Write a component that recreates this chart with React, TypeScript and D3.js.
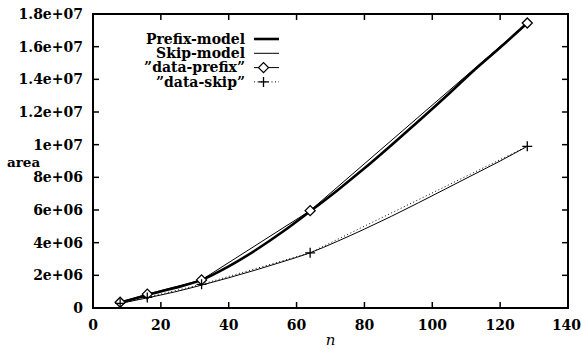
import React from "react";
import * as d3 from "d3";

const dataN = [8, 16, 32, 64, 128];
const dataPrefix = [0.35e6, 0.85e6, 1.72e6, 5.96e6, 17.45e6];
const dataSkip = [0.28e6, 0.65e6, 1.45e6, 3.38e6, 9.9e6];

const modelN = [8, 16, 24, 32, 40, 48, 56, 64, 72, 80, 88, 96, 104, 112, 120, 128];
const prefixModel = [0.33e6, 0.8e6, 1.22e6, 1.72e6, 2.55e6, 3.55e6, 4.68e6, 5.92e6, 7.2e6, 8.55e6, 9.98e6, 11.45e6, 12.95e6, 14.5e6, 15.95e6, 17.45e6];
const skipModel = [0.28e6, 0.62e6, 0.98e6, 1.4e6, 1.85e6, 2.33e6, 2.84e6, 3.38e6, 4.08e6, 4.83e6, 5.62e6, 6.45e6, 7.3e6, 8.15e6, 9.0e6, 9.9e6];

const xTicks = [0, 20, 40, 60, 80, 100, 120, 140];
const yTicks = [0, 2e6, 4e6, 6e6, 8e6, 1e7, 1.2e7, 1.4e7, 1.6e7, 1.8e7];
const yTickLabels = ["0", "2e+06", "4e+06", "6e+06", "8e+06", "1e+07", "1.2e+07", "1.4e+07", "1.6e+07", "1.8e+07"];
const legendLabels = ["Prefix-model", "Skip-model", "\u201ddata-prefix\u201d", "\u201ddata-skip\u201d"];

const W = 582, H = 349;
const L = 93, R = 568, T = 14, B = 308;
const font = "'DejaVu Serif', 'Liberation Serif', serif";

export default function App() {
  const x = d3.scaleLinear().domain([0, 140]).range([L, R]);
  const y = d3.scaleLinear().domain([0, 1.8e7]).range([B, T]);

  const prefixPath = d3.line<number>().x((_, i) => x(modelN[i])).y((v) => y(v)).curve(d3.curveMonotoneX)(prefixModel) as string;
  const skipPath = d3.line<number>().x((_, i) => x(modelN[i])).y((v) => y(v)).curve(d3.curveMonotoneX)(skipModel) as string;
  const lin = (arr: number[]) => d3.line<number>().x((_, i) => x(dataN[i])).y((v) => y(v))(arr) as string;

  const diamond = (cx: number, cy: number, k: number) => (
    <path key={k} d={`M${cx - 5},${cy} L${cx},${cy - 5} L${cx + 5},${cy} L${cx},${cy + 5} Z`} fill="white" stroke="black" strokeWidth={1.3} />
  );
  const plus = (cx: number, cy: number, k: number) => (
    <path key={k} d={`M${cx - 5},${cy} H${cx + 5} M${cx},${cy - 5} V${cy + 5}`} stroke="black" strokeWidth={1.3} />
  );

  const legY = [39, 53.3, 67.6, 81.9];
  const legTextX = 245;
  const lx1 = 254, lx2 = 279;

  return (
    <svg width={W} height={H} style={{ position: "absolute", left: 0, top: 0, background: "white" }}>
      <rect width={W} height={H} fill="white" />
      {xTicks.map((t, i) => (
        <g key={"xt" + i}>
          {t > 0 && t < 140 && <line x1={x(t)} x2={x(t)} y1={B} y2={B - 6} stroke="black" strokeWidth={1.5} />}
          {t > 0 && t < 140 && <line x1={x(t)} x2={x(t)} y1={T} y2={T + 6} stroke="black" strokeWidth={1.5} />}
          <text x={t === 140 ? x(t) - 1.5 : x(t)} y={330} textAnchor="middle" fontFamily={font} fontWeight="bold" fontSize={14}>{t}</text>
        </g>
      ))}
      {yTicks.map((t, i) => (
        <g key={"yt" + i}>
          {i > 0 && i < yTicks.length - 1 && <line x1={L} x2={L + 6} y1={y(t)} y2={y(t)} stroke="black" strokeWidth={1.5} />}
          {i > 0 && i < yTicks.length - 1 && <line x1={R} x2={R - 6} y1={y(t)} y2={y(t)} stroke="black" strokeWidth={1.5} />}
          <text x={83} y={y(t) + 5} textAnchor="end" fontFamily={font} fontWeight="bold" fontSize={14}>{yTickLabels[i]}</text>
        </g>
      ))}
      <rect x={L} y={T} width={R - L} height={B - T} fill="none" stroke="black" strokeWidth={2} />
      <text x={7} y={167} fontFamily={font} fontWeight="bold" fontSize={13.5}>area</text>
      <text x={x(70)} y={345} textAnchor="middle" fontFamily={font} fontStyle="italic" fontSize={15}>n</text>

      <path d={prefixPath} fill="none" stroke="black" strokeWidth={2.6} />
      <path d={skipPath} fill="none" stroke="black" strokeWidth={1} />
      <path d={lin(dataPrefix)} fill="none" stroke="black" strokeWidth={1} />
      <path d={lin(dataSkip)} fill="none" stroke="black" strokeWidth={1} strokeDasharray="1,2.5" />
      {dataN.map((n, i) => diamond(x(n), y(dataPrefix[i]), i))}
      {dataN.map((n, i) => plus(x(n), y(dataSkip[i]), i))}

      {legendLabels.map((lab, i) => (
        <text key={"lg" + i} x={legTextX} y={legY[i] + 4.8} textAnchor="end" fontFamily={font} fontWeight="bold" fontSize={14}>{lab}</text>
      ))}
      <line x1={lx1} x2={lx2} y1={legY[0]} y2={legY[0]} stroke="black" strokeWidth={2.6} />
      <line x1={lx1} x2={lx2} y1={legY[1]} y2={legY[1]} stroke="black" strokeWidth={1} />
      <line x1={lx1} x2={lx2} y1={legY[2]} y2={legY[2]} stroke="black" strokeWidth={1} />
      {diamond((lx1 + lx2) / 2 - 3, legY[2], 99)}
      <line x1={lx1} x2={lx2} y1={legY[3]} y2={legY[3]} stroke="black" strokeWidth={1} strokeDasharray="1,2.5" />
      {plus((lx1 + lx2) / 2 - 3, legY[3], 98)}
    </svg>
  );
}
